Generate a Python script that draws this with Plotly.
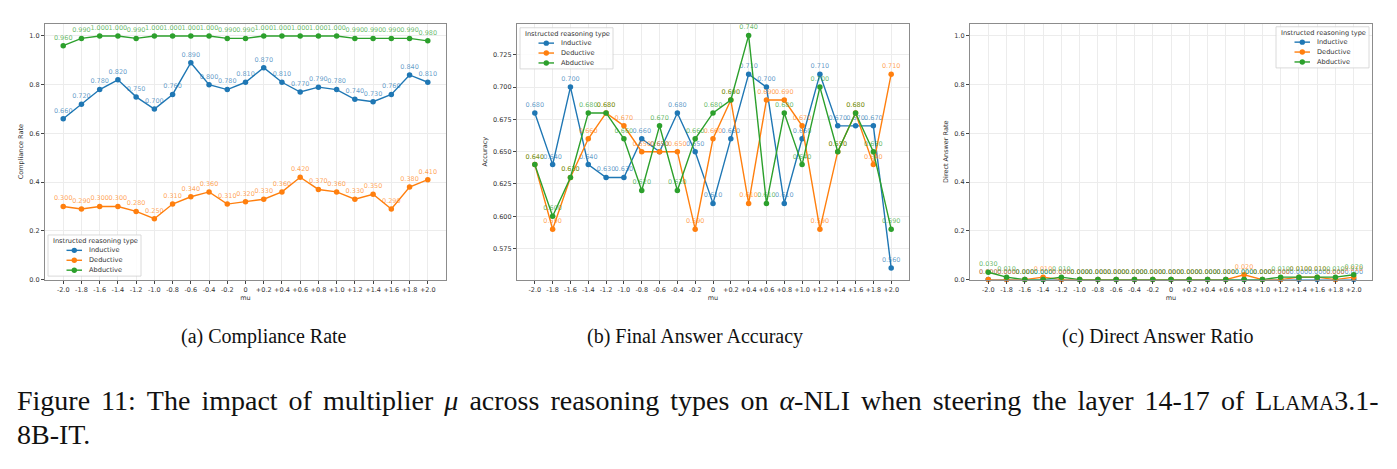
import plotly.graph_objects as go

mu_labels = ["-2.0", "-1.8", "-1.6", "-1.4", "-1.2", "-1.0", "-0.8", "-0.6", "-0.4", "-0.2", "0",
             "+0.2", "+0.4", "+0.6", "+0.8", "+1.0", "+1.2", "+1.4", "+1.6", "+1.8", "+2.0"]
series_names = ["Inductive", "Deductive", "Abductive"]
legend_title = "Instructed reasoning type"

compliance_inductive = [0.66, 0.72, 0.78, 0.82, 0.75, 0.70, 0.76, 0.89, 0.80, 0.78, 0.81,
                        0.87, 0.81, 0.77, 0.79, 0.78, 0.74, 0.73, 0.76, 0.84, 0.81]
compliance_deductive = [0.30, 0.29, 0.30, 0.30, 0.28, 0.25, 0.31, 0.34, 0.36, 0.31, 0.32,
                        0.33, 0.36, 0.42, 0.37, 0.36, 0.33, 0.35, 0.29, 0.38, 0.41]
compliance_abductive = [0.96, 0.99, 1.00, 1.00, 0.99, 1.00, 1.00, 1.00, 1.00, 0.99, 0.99,
                        1.00, 1.00, 1.00, 1.00, 1.00, 0.99, 0.99, 0.99, 0.99, 0.98]

accuracy_inductive = [0.68, 0.64, 0.70, 0.64, 0.63, 0.63, 0.66, 0.65, 0.68, 0.65, 0.61,
                      0.66, 0.71, 0.70, 0.61, 0.66, 0.71, 0.67, 0.67, 0.67, 0.56]
accuracy_deductive = [0.64, 0.59, 0.63, 0.66, 0.68, 0.67, 0.65, 0.65, 0.65, 0.59, 0.66,
                      0.69, 0.61, 0.69, 0.69, 0.67, 0.59, 0.65, 0.68, 0.64, 0.71]
accuracy_abductive = [0.64, 0.60, 0.63, 0.68, 0.68, 0.66, 0.62, 0.67, 0.62, 0.66, 0.68,
                      0.69, 0.74, 0.61, 0.68, 0.64, 0.70, 0.65, 0.68, 0.65, 0.59]

direct_inductive = [0.00, 0.00, 0.00, 0.00, 0.00, 0.00, 0.00, 0.00, 0.00, 0.00, 0.00,
                    0.00, 0.00, 0.00, 0.00, 0.00, 0.00, 0.00, 0.00, 0.00, 0.00]
direct_deductive = [0.00, 0.00, 0.00, 0.01, 0.00, 0.00, 0.00, 0.00, 0.00, 0.00, 0.00,
                    0.00, 0.00, 0.00, 0.02, 0.00, 0.00, 0.01, 0.01, 0.00, 0.01]
direct_abductive = [0.03, 0.01, 0.00, 0.00, 0.01, 0.00, 0.00, 0.00, 0.00, 0.00, 0.00,
                    0.00, 0.00, 0.00, 0.00, 0.00, 0.01, 0.01, 0.01, 0.01, 0.02]

colors = ["#1f77b4", "#ff7f0e", "#2ca02c"]
label_colors = ["rgba(31,119,180,0.72)", "rgba(255,127,14,0.72)", "rgba(44,160,44,0.72)"]

panels = [
    ([compliance_inductive, compliance_deductive, compliance_abductive], "Compliance Rate",
     [0, 1.05], [0, 0.2, 0.4, 0.6, 0.8, 1.0], ".1f"),
    ([accuracy_inductive, accuracy_deductive, accuracy_abductive], "Accuracy",
     [0.551, 0.749], [0.575, 0.600, 0.625, 0.650, 0.675, 0.700, 0.725], ".3f"),
    ([direct_inductive, direct_deductive, direct_abductive], "Direct Answer Rate",
     [0, 1.05], [0, 0.2, 0.4, 0.6, 0.8, 1.0], ".1f"),
]

W, H = 1397, 469
xdomains = [(45 / W, 446 / W), (517 / W, 909 / W), (970 / W, 1372 / W)]
ydomain = (1 - 282 / H, 1 - 24 / H)
legend_boxes = [(48, 237), (520, 28), (1276, 27)]   # top-left pixel corner of each legend box

FONT = "DejaVu Sans"
TXT = "#333"
fig = go.Figure()
idx = list(range(len(mu_labels)))


def px(x):
    return x / W


def py(y):
    return 1 - y / H


for p, (data, ytitle, yrange, yticks, yfmt) in enumerate(panels):
    xa = "x" if p == 0 else f"x{p+1}"
    ya = "y" if p == 0 else f"y{p+1}"
    for s, vals in enumerate(data):
        fig.add_trace(go.Scatter(
            x=idx, y=vals, mode="lines+markers+text",
            name=series_names[s], showlegend=False,
            line=dict(color=colors[s], width=1.4),
            marker=dict(color=colors[s], size=5.5),
            text=[f"{v:.3f}" for v in vals], textposition="top center",
            textfont=dict(family=FONT, size=6.5, color=label_colors[s]),
            xaxis=xa, yaxis=ya, cliponaxis=False,
        ))
    axis_common = dict(showline=True, linecolor="#8c8c8c", linewidth=1.3, mirror=True,
                       showgrid=True, gridcolor="#ececec", gridwidth=0.8, zeroline=False,
                       ticks="outside", ticklen=3, tickcolor="#444", tickwidth=0.8,
                       tickfont=dict(family=FONT, size=6.5, color=TXT))
    fig.layout[("xaxis" if p == 0 else f"xaxis{p+1}")] = dict(
        domain=xdomains[p], anchor=ya, range=[-1, 21],
        tickmode="array", tickvals=idx, ticktext=mu_labels,
        title=dict(text="mu", font=dict(family=FONT, size=6.5, color=TXT), standoff=2),
        **axis_common)
    fig.layout[("yaxis" if p == 0 else f"yaxis{p+1}")] = dict(
        domain=ydomain, anchor=xa, range=yrange,
        tickmode="array", tickvals=yticks, tickformat=yfmt,
        title=dict(text=ytitle, font=dict(family=FONT, size=6.5, color=TXT), standoff=4),
        **axis_common)

# hand-drawn compact legends (matplotlib style)
for (lx, ly) in legend_boxes:
    fig.add_shape(type="rect", xref="paper", yref="paper",
                  x0=px(lx), x1=px(lx + 93), y0=py(ly), y1=py(ly + 41.5),
                  fillcolor="rgba(255,255,255,0.85)", line=dict(color="#d0d0d0", width=0.8),
                  layer="above")
    fig.add_annotation(text=legend_title, x=px(lx + 3), y=py(ly + 5.8), xref="paper", yref="paper",
                       showarrow=False, xanchor="left", yanchor="middle",
                       font=dict(family=FONT, size=6.6, color=TXT))
    for s, name in enumerate(series_names):
        yy = ly + 15.5 + 10 * s
        fig.add_shape(type="line", xref="paper", yref="paper",
                      x0=px(lx + 18.5), x1=px(lx + 34), y0=py(yy), y1=py(yy),
                      line=dict(color=colors[s], width=1.4), layer="above")
        fig.add_shape(type="circle", xref="paper", yref="paper",
                      xsizemode="pixel", ysizemode="pixel",
                      xanchor=px(lx + 26.3), yanchor=py(yy),
                      x0=-2.7, x1=2.7, y0=-2.7, y1=2.7,
                      fillcolor=colors[s], line=dict(width=0), layer="above")
        fig.add_annotation(text=name, x=px(lx + 39), y=py(yy), xref="paper", yref="paper",
                           showarrow=False, xanchor="left", yanchor="middle",
                           font=dict(family=FONT, size=6.6, color=TXT))

captions = ["(a) Compliance Rate", "(b) Final Answer Accuracy", "(c) Direct Answer Ratio"]
caption_x = [264, 695, 1158]
for c, cx in zip(captions, caption_x):
    fig.add_annotation(text=c, x=px(cx), y=py(339), xref="paper", yref="paper",
                       showarrow=False, xanchor="center", yanchor="middle",
                       font=dict(family="Liberation Serif", size=20, color="#111"))

# justified caption line: widen the inter-word spaces
SP = "<span style='font-size:44px'>\u00a0</span>"
words1 = ["Figure", "11:", "The", "impact", "of", "multiplier", "<i>μ</i>", "across", "reasoning",
          "types", "on", "<i>α</i>-NLI", "when", "steering", "the", "layer", "14-17", "of",
          "L<span style='font-size:21px'>LAMA</span>3.1-"]
line1 = SP.join(words1)
line2 = "8B-IT."
fig.add_annotation(text=line1, x=px(15), y=py(399), xref="paper", yref="paper",
                   showarrow=False, xanchor="left", yanchor="middle",
                   font=dict(family="Liberation Serif", size=28, color="#111"))
fig.add_annotation(text=line2, x=px(15), y=py(438), xref="paper", yref="paper",
                   showarrow=False, xanchor="left", yanchor="middle",
                   font=dict(family="Liberation Serif", size=28, color="#111"))

fig.update_layout(width=W, height=H, margin=dict(l=0, r=0, t=0, b=0),
                  paper_bgcolor="white", plot_bgcolor="white", showlegend=False)
fig.write_html("out.html")
